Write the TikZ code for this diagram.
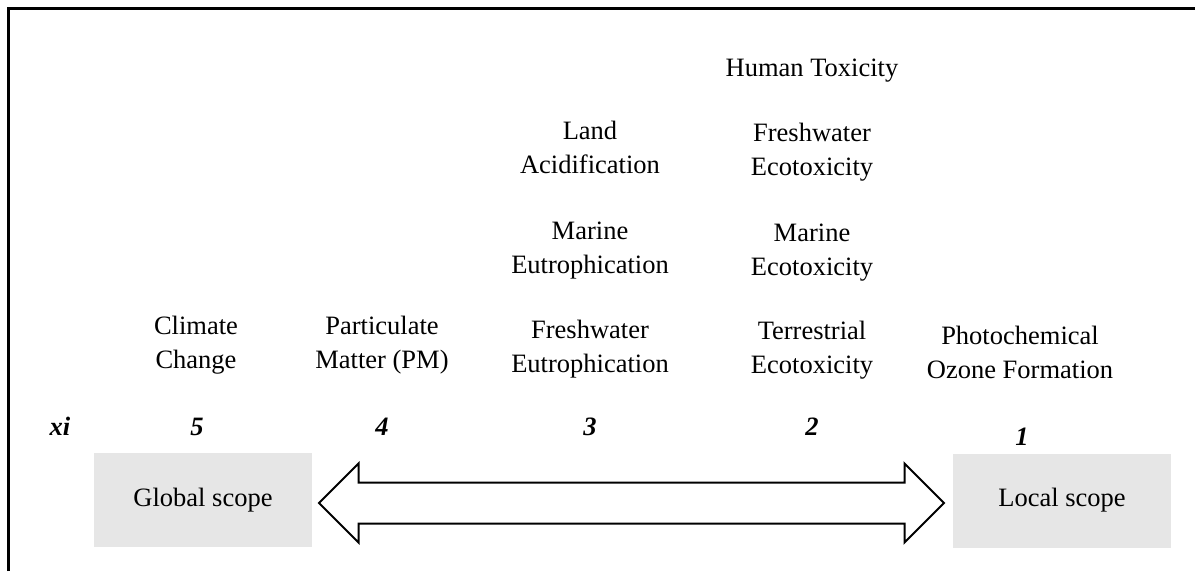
\documentclass[tikz,border=0pt]{standalone}
\usepackage{fontspec}
\setmainfont{Liberation Serif}
\usetikzlibrary{positioning,calc,shapes.arrows}

\definecolor{scopegray}{RGB}{230,230,230}

\begin{document}
\begin{tikzpicture}[
    x=1pt, y=-1pt,
    impact/.style={align=center, anchor=base, inner sep=0pt, font=\fontsize{26.5}{33.5}\selectfont},
    rankno/.style={anchor=base, inner sep=0pt, font=\fontsize{26.5}{33.5}\selectfont\bfseries\itshape},
    scopebox/.style={fill=scopegray, minimum width=218pt, minimum height=94pt, inner sep=0pt, font=\fontsize{26.5}{33.5}\selectfont},
    bigarrow/.style={draw, line width=2pt, double arrow, double arrow head extend=19pt, minimum height=625pt, inner xsep=0pt, inner ysep=19.5pt}
]
\useasboundingbox (0,0) rectangle (1195,571);

% frame
\draw[line width=3pt] (8.5,571) -- (8.5,8.5) -- (1195,8.5);

% impact categories (anchored on the last line)
\node[impact] (cc) at (196,368) {Climate\\Change};
\node[impact] (pm) at (382,368) {Particulate\\Matter (PM)};

\node[impact] (la) at (590,173) {Land\\Acidification};
\node[impact] (me) at (590,273) {Marine\\Eutrophication};
\node[impact] (fe) at (590,372) {Freshwater\\Eutrophication};

\node[impact] (ht) at (812,76) {Human Toxicity};
\node[impact] (fet) at (812,175) {Freshwater\\Ecotoxicity};
\node[impact] (met) at (812,275) {Marine\\Ecotoxicity};
\node[impact] (tet) at (812,373) {Terrestrial\\Ecotoxicity};

\node[impact] (pof) at (1020,378) {Photochemical\\Ozone Formation};

% ranks
\node[rankno] (xi) at (60,435) {xi};
\node[rankno] (r5) at (197,435) {5};
\node[rankno] (r4) at (382,435) {4};
\node[rankno] (r3) at (590,435) {3};
\node[rankno] (r2) at (812,435) {2};
\node[rankno] (r1) at (1022,445) {1};

% scopes
\node[scopebox] (global) at (203,500) {Global scope};
\node[scopebox] (local) at (1062,500.5) {Local scope};

\node[bigarrow] (range) at (631.5,503) {};

\end{tikzpicture}
\end{document}
